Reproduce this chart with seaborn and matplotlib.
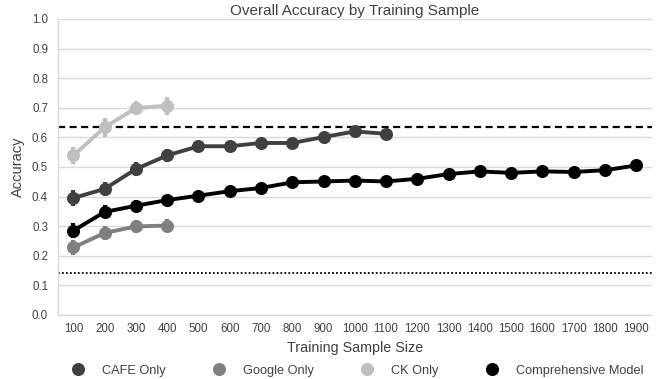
import matplotlib
matplotlib.use("Agg")
import matplotlib.pyplot as plt
from matplotlib.lines import Line2D
import seaborn as sns
import pandas as pd
import numpy as np

sizes = [100, 200, 300, 400, 500, 600, 700, 800, 900, 1000, 1100, 1200, 1300, 1400, 1500, 1600, 1700, 1800, 1900]

cafe = [0.395, 0.426, 0.493, 0.539, 0.570, 0.570, 0.581, 0.581, 0.601, 0.620, 0.612]
cafe_err = [0.026, 0.024, 0.024, 0.022, 0.012, 0.012, 0.012, 0.012, 0.012, 0.012, 0.010]
google = [0.228, 0.277, 0.299, 0.302]
google_err = [0.024, 0.024, 0.022, 0.022]
ck = [0.539, 0.634, 0.699, 0.707]
ck_err = [0.028, 0.032, 0.024, 0.030]
comp = [0.285, 0.348, 0.369, 0.388, 0.403, 0.418, 0.429, 0.448, 0.451, 0.454, 0.451,
        0.460, 0.476, 0.485, 0.480, 0.485, 0.483, 0.489, 0.505]
comp_err = [0.024, 0.022, 0.020, 0.018] + [0.010] * 15

upper_ref = 0.636
chance_ref = 0.143

series_names = ["CAFE Only", "Google Only", "CK Only", "Comprehensive Model"]
series_vals = [cafe, google, ck, comp]
series_errs = [cafe_err, google_err, ck_err, comp_err]
colors = ["#404040", "#808080", "#bfbfbf", "#000000"]

rows = []
for name, vals in zip(series_names, series_vals):
    for s, v in zip(sizes, vals):
        rows.append({"Series": name, "Size": s, "Accuracy": v})
df = pd.DataFrame(rows)

sns.set_theme(style="white")
plt.rcParams["font.family"] = ["Liberation Sans", "DejaVu Sans"]

text_c = "#404040"
fig = plt.figure(figsize=(6.57, 3.79), dpi=100)
ax = fig.add_axes([0.088, 0.169, 0.904, 0.781])

for y in np.arange(0.1, 1.01, 0.1):
    ax.axhline(y, color="#d9d9d9", lw=1.0, zorder=0)

for name, vals, errs, c in zip(series_names, series_vals, series_errs, colors):
    ax.errorbar(sizes[:len(vals)], vals, yerr=errs, fmt="none", ecolor=c, elinewidth=3.0,
                capsize=0, zorder=2)

sns.lineplot(data=df, x="Size", y="Accuracy", hue="Series", hue_order=series_names,
             palette=colors, marker="o", markersize=9.4, markeredgewidth=0,
             linewidth=2.8, ax=ax, legend=False, zorder=3)

ax.axhline(upper_ref, color="black", lw=1.6, ls=(0, (3.2, 2.0)), zorder=1)
ax.axhline(chance_ref, color="black", lw=1.3, ls=(0, (1, 1.2)), zorder=1)

ax.set_xlim(50, 1950)
ax.set_ylim(0, 1.0)
ax.set_xticks(sizes)
ax.set_xticklabels([str(s) for s in sizes], fontsize=8.3, color=text_c)
ax.set_yticks(np.arange(0, 1.01, 0.1))
ax.set_yticklabels([f"{v:.1f}" for v in np.arange(0, 1.01, 0.1)], fontsize=8.3, color=text_c)
ax.tick_params(axis="x", length=0, pad=6)
ax.tick_params(axis="y", length=0, pad=7)

for side in ["top", "right"]:
    ax.spines[side].set_visible(False)
ax.spines["left"].set_color("#d9d9d9")
ax.spines["bottom"].set_color("#d9d9d9")
ax.spines["left"].set_linewidth(1.0)
ax.spines["bottom"].set_linewidth(1.0)

ax.set_title("Overall Accuracy by Training Sample", fontsize=11.0, color=text_c, pad=3)
ax.set_xlabel("Training Sample Size", fontsize=10.3, color=text_c, labelpad=4)
ax.set_ylabel("Accuracy", fontsize=10.5, color=text_c, labelpad=5)

handles = [Line2D([0], [0], marker="o", color="none", markerfacecolor=c, markeredgewidth=0,
                  markersize=9.4) for c in colors]
fig.legend(handles, series_names, loc="center", bbox_to_anchor=(0.543, 0.022), ncol=4,
           frameon=False, fontsize=9.2, handletextpad=1.27, columnspacing=3.6,
           labelcolor=text_c, handlelength=1.2, borderpad=0, borderaxespad=0)

fig.savefig("out.png", dpi=100)
